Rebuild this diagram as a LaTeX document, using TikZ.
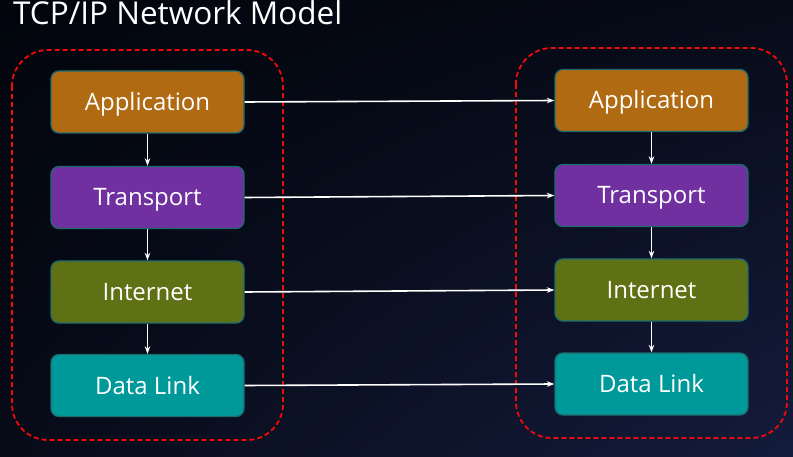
\documentclass[tikz,border=0pt]{standalone}
\usepackage{fontspec}
\setmainfont{Open Sans}
\usetikzlibrary{arrows.meta,shadings}
\definecolor{bgA}{HTML}{02050C}
\definecolor{bgB}{HTML}{070B18}
\definecolor{bgC}{HTML}{141C3C}
\definecolor{appC}{HTML}{B06A12}
\definecolor{trC}{HTML}{7030A0}
\definecolor{inC}{HTML}{5F7114}
\definecolor{dlC}{HTML}{009999}
\definecolor{edgeC}{HTML}{1E6B6E}
\definecolor{dashC}{HTML}{F00A0A}
\begin{document}
\begin{tikzpicture}[x=1pt,y=-1pt,
  layer/.style={rectangle, rounded corners=8pt, draw=edgeC, line width=1.3pt,
    minimum width=193pt, minimum height=62pt, inner sep=0pt, text=white,
    text height=17pt, text depth=0pt,
    font=\fontsize{24}{28}\selectfont},
  flow/.style={draw=white, line width=1.6pt, -{Stealth[length=7.5pt,width=5.5pt]}},
  container/.style={draw=dashC, line width=1.8pt, dash pattern=on 5pt off 3pt, rounded corners=36pt}]
\useasboundingbox (0,0) rectangle (793,457);
\shade[upper left=bgA, upper right=bgB, lower left=bgB, lower right=bgC] (0,0) rectangle (793,457);
\node[anchor=base west, text=white, inner sep=0pt, font=\fontsize{31.5}{36}\selectfont] (title) at (13,24.5) {TCP/IP Network Model};
\draw[container] (12,50) rectangle (283,440);
\draw[container] (516,48) rectangle (787,438);
\node[layer, fill=appC] (la) at (147.5,102) {Application};
\node[layer, fill=trC] (lt) at (147.5,197.5) {Transport};
\node[layer, fill=inC] (li) at (147.5,292) {Internet};
\node[layer, fill=dlC] (ld) at (147.5,385.5) {Data Link};
\node[layer, fill=appC] (ra) at (651.5,100.5) {Application};
\node[layer, fill=trC] (rt) at (651.5,195.5) {Transport};
\node[layer, fill=inC] (ri) at (651.5,290) {Internet};
\node[layer, fill=dlC] (rd) at (651.5,384) {Data Link};
\draw[flow] (la) -- (lt);
\draw[flow] (lt) -- (li);
\draw[flow] (li) -- (ld);
\draw[flow] (ra) -- (rt);
\draw[flow] (rt) -- (ri);
\draw[flow] (ri) -- (rd);
\draw[flow] (la.east) -- (ra.west);
\draw[flow] (lt.east) -- (rt.west);
\draw[flow] (li.east) -- (ri.west);
\draw[flow] (ld.east) -- (rd.west);
\end{tikzpicture}
\end{document}
